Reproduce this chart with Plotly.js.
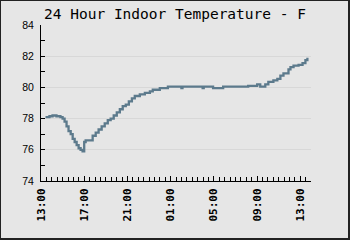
<!DOCTYPE html>
<html>
<head>
<meta charset="utf-8">
<script src="https://cdn.plot.ly/plotly-3.0.1.min.js"></script>
<style>
html,body{margin:0;padding:0;background:#e6e6e6;}
#wrap{position:relative;width:350px;height:240px;}
#chart{width:350px;height:240px;}
#frame{position:absolute;left:0;top:0;width:350px;height:240px;box-sizing:border-box;border-left:1px solid #222;border-top:1px solid #222;border-right:2px solid #222;border-bottom:2px solid #222;pointer-events:none;}
</style>
</head>
<body>
<div id="wrap"><div id="chart"></div><div id="frame"></div></div>
<script>
const times = [
  "2024-01-01 13:25","2024-01-01 13:47","2024-01-01 14:04","2024-01-01 14:26","2024-01-01 14:48",
  "2024-01-01 15:00","2024-01-01 15:11","2024-01-01 15:22","2024-01-01 15:33","2024-01-01 15:45",
  "2024-01-01 15:56","2024-01-01 16:07","2024-01-01 16:18","2024-01-01 16:29","2024-01-01 16:40",
  "2024-01-01 16:51","2024-01-01 17:00","2024-01-01 17:08","2024-01-01 17:36","2024-01-01 17:47",
  "2024-01-01 18:04","2024-01-01 18:20","2024-01-01 18:37","2024-01-01 18:54","2024-01-01 19:11",
  "2024-01-01 19:27","2024-01-01 19:44","2024-01-01 20:01","2024-01-01 20:18","2024-01-01 20:34",
  "2024-01-01 20:51","2024-01-01 21:08","2024-01-01 21:25","2024-01-01 21:41","2024-01-01 22:09",
  "2024-01-01 22:37","2024-01-01 23:05","2024-01-01 23:21","2024-01-02 00:00","2024-01-02 00:45",
  "2024-01-02 02:00","2024-01-02 02:06","2024-01-02 03:58","2024-01-02 04:04","2024-01-02 04:56",
  "2024-01-02 05:52","2024-01-02 08:11","2024-01-02 09:01","2024-01-02 09:18","2024-01-02 09:46",
  "2024-01-02 10:03","2024-01-02 10:31","2024-01-02 10:53","2024-01-02 11:10","2024-01-02 11:27",
  "2024-01-02 11:55","2024-01-02 12:06","2024-01-02 12:23","2024-01-02 12:51","2024-01-02 13:13",
  "2024-01-02 13:29","2024-01-02 13:40"
];
const temps = [
  78.1,78.15,78.2,78.15,78.1,
  78.0,77.8,77.5,77.2,77.0,
  76.7,76.5,76.3,76.1,76.0,
  75.9,76.5,76.6,76.6,76.9,
  77.1,77.3,77.5,77.7,77.9,
  78.0,78.2,78.4,78.6,78.8,
  78.9,79.1,79.3,79.45,79.55,
  79.65,79.75,79.85,79.95,80.05,
  79.95,80.05,79.95,80.05,79.95,
  80.05,80.1,80.2,80.05,80.2,
  80.35,80.45,80.55,80.75,80.9,
  81.15,81.3,81.4,81.45,81.55,
  81.75,81.9
];
const xTickVals = ["2024-01-01 13:00","2024-01-01 17:00","2024-01-01 21:00","2024-01-02 01:00","2024-01-02 05:00","2024-01-02 09:00","2024-01-02 13:00"];
const xTickText = ["13:00","17:00","21:00","01:00","05:00","09:00","13:00"];
const yTickVals = [74,76,78,80,82,84];
const titleText = "24 Hour Indoor Temperature - F";

const trace = {
  x: times, y: temps, type: 'scatter', mode: 'lines',
  line: {color: '#5c7a8c', width: 2.3, shape: 'hv'},
  hoverinfo: 'skip'
};
const layout = {
  width: 350, height: 240,
  margin: {l: 41, r: 39, t: 25, b: 58.5},
  paper_bgcolor: '#e6e6e6', plot_bgcolor: '#e6e6e6',
  showlegend: false,
  title: {text: titleText, font: {family: 'DejaVu Sans Mono', size: 14.5, color: '#000'}, x: 0.5, xanchor: 'center', y: 0.965, yanchor: 'top'},
  xaxis: {
    type: 'date', range: ["2024-01-01 13:00","2024-01-02 14:00"],
    tickmode: 'array', tickvals: xTickVals, ticktext: xTickText,
    tickangle: -90, ticks: 'inside', ticklen: 5, tickcolor: '#000', tickwidth: 1,
    minor: {dtick: 1800000, ticks: 'inside', ticklen: 4, tickcolor: '#000', showgrid: false},
    showgrid: false, zeroline: false, showline: true, linecolor: '#000', linewidth: 1,
    tickfont: {family: 'DejaVu Sans Mono', size: 11, color: '#000', weight: 'bold'},
    ticklabelstandoff: 2
  },
  yaxis: {
    range: [74, 84], tickmode: 'array', tickvals: yTickVals,
    ticks: 'inside', ticklen: 4, tickcolor: '#000', tickwidth: 1,
    minor: {dtick: 1, ticks: 'inside', ticklen: 4, tickcolor: '#000', showgrid: false},
    showgrid: true, gridcolor: '#d8d8d8', gridwidth: 1,
    zeroline: false, showline: true, linecolor: '#000', linewidth: 1,
    tickfont: {family: 'Liberation Sans', size: 10.5, color: '#000'},
    ticklabelstandoff: 4
  }
};
Plotly.newPlot('chart', [trace], layout, {staticPlot: true, displayModeBar: false});
</script>
</body>
</html>
